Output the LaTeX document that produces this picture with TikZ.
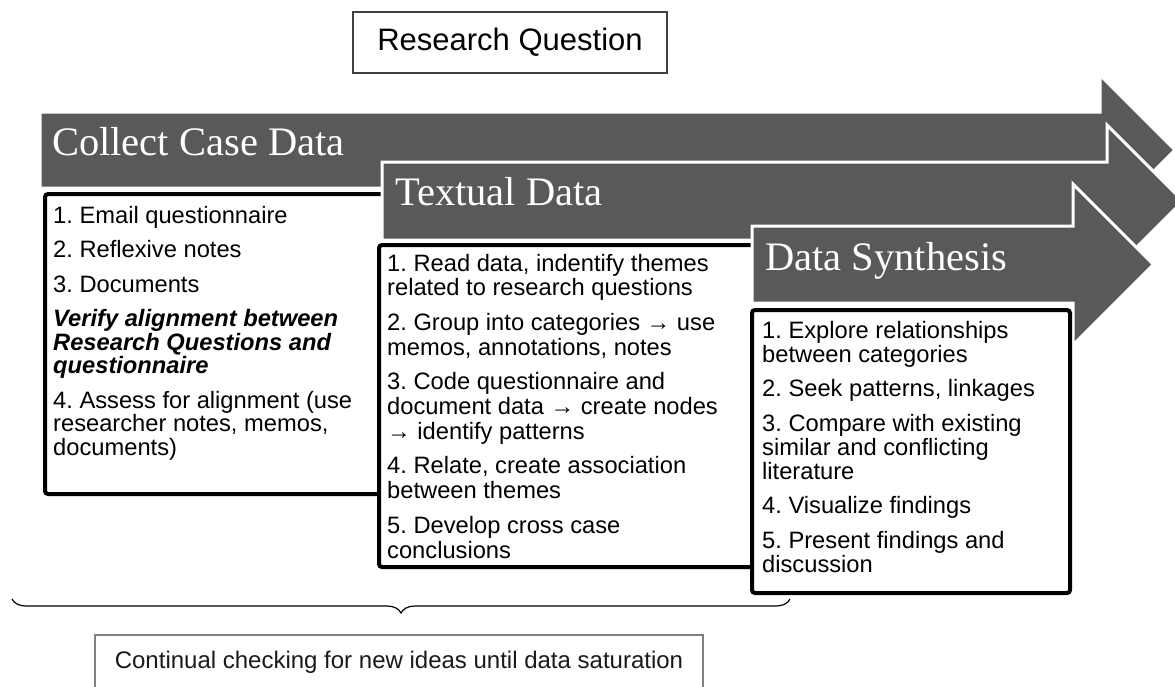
\documentclass[tikz,border=0pt]{standalone}
\usepackage{fontspec}
\setmainfont{Liberation Sans}
\newfontfamily\headfont{Liberation Serif}
\usetikzlibrary{decorations.pathreplacing}
\definecolor{arrowgray}{HTML}{595959}
\definecolor{rqgray}{HTML}{404040}
\definecolor{chkgray}{HTML}{808080}
\definecolor{chktext}{HTML}{1A1A1A}
\frenchspacing
\begin{document}
\begin{tikzpicture}[x=1pt,y=-1pt,
  stagearrow/.style={fill=arrowgray,draw=white,line width=3pt,line join=miter},
  headtext/.style={anchor=base west,inner sep=0pt,text=white,font=\headfont\fontsize{40.5}{44}\selectfont},
  boxfill/.style={fill=white},
  boxline/.style={draw=black,line width=4pt,rounded corners=3pt},
  listtext/.style={anchor=base west,inner sep=0pt,align=left},
]
\useasboundingbox (0,0) rectangle (1175,686);
\clip (0,0) rectangle (1175,686);
\fill[white] (0,0) rectangle (1175,686);

% Research question
\node[draw=rqgray,line width=1.5pt,minimum width=314pt,minimum height=61pt,inner sep=0pt,
      font=\fontsize{31}{34}\selectfont] (rq) at (510,42.5) {Research Question};

% Stage 1
\path[stagearrow] (40,112) -- (1100,112) -- (1100,75) -- (1175,150) -- (1100,225) -- (1100,188) -- (40,188) -- cycle;
\node[headtext] (h1) at (52,155) {Collect Case Data};
\fill[boxfill] (45,194) rectangle (430,494);
\draw[boxline] (430,194) -- (45,194) -- (45,494) -- (430,494);
% anchored at the baseline of the last line
\node[listtext,font=\fontsize{23.7}{23.5}\selectfont] (t1) at (53,455) {%
1. Email questionnaire\\[11pt]
2. Reflexive notes\\[11pt]
3. Documents\\[11pt]
{\bfseries\itshape Verify alignment between}\\
{\bfseries\itshape Research Questions and}\\
{\bfseries\itshape questionnaire}\\[11pt]
4. Assess for alignment (use\\
researcher notes, memos,\\
documents)};

% Stage 2
\path[stagearrow] (382,162) -- (1107,162) -- (1107,125) -- (1183,201) -- (1107,277) -- (1107,240) -- (382,240) -- cycle;
\node[headtext] (h2) at (395,205) {Textual Data};
\fill[boxfill] (379,245) rectangle (800,567);
\draw[boxline] (800,245) -- (379,245) -- (379,567) -- (800,567);
\node[listtext,font=\fontsize{23.7}{24.7}\selectfont] (t2) at (387,558) {%
1. Read data, indentify themes\\
related to research questions\\[10pt]
2. Group into categories → use\\
memos, annotations, notes\\[10pt]
3. Code questionnaire and\\
document data → create nodes\\
→ identify patterns\\[10pt]
4. Relate, create association\\
between themes\\[10pt]
5. Develop cross case\\
conclusions};

% Stage 3
\path[stagearrow] (752,226) -- (1073,226) -- (1073,184) -- (1153.5,264.5) -- (1073,345) -- (1073,303) -- (752,303) -- cycle;
\node[headtext] (h3) at (765,270) {Data Synthesis};
\draw[boxline,fill=white] (752,310) rectangle (1070,593);
\node[listtext,font=\fontsize{23.7}{24}\selectfont] (t3) at (762,572) {%
1. Explore relationships\\
between categories\\[10.5pt]
2. Seek patterns, linkages\\[10.5pt]
3. Compare with existing\\
similar and conflicting\\
literature\\[10.5pt]
4. Visualize findings\\[10.5pt]
5. Present findings and\\
discussion};

% Brace and checking box
\coordinate (bl) at (12,599);
\coordinate (br) at (790,599);
\draw[decorate,decoration={brace,amplitude=14pt,mirror},line width=1.2pt] (bl) -- (br);
\draw[chkgray,line width=1.3pt] (95,720) -- (95,635) -- (703,635) -- (703,720);
\node[anchor=base,inner sep=0pt,text=chktext,font=\fontsize{24}{26}\selectfont] (chk) at (399,668)
  {Continual checking for new ideas until data saturation};
\end{tikzpicture}
\end{document}
